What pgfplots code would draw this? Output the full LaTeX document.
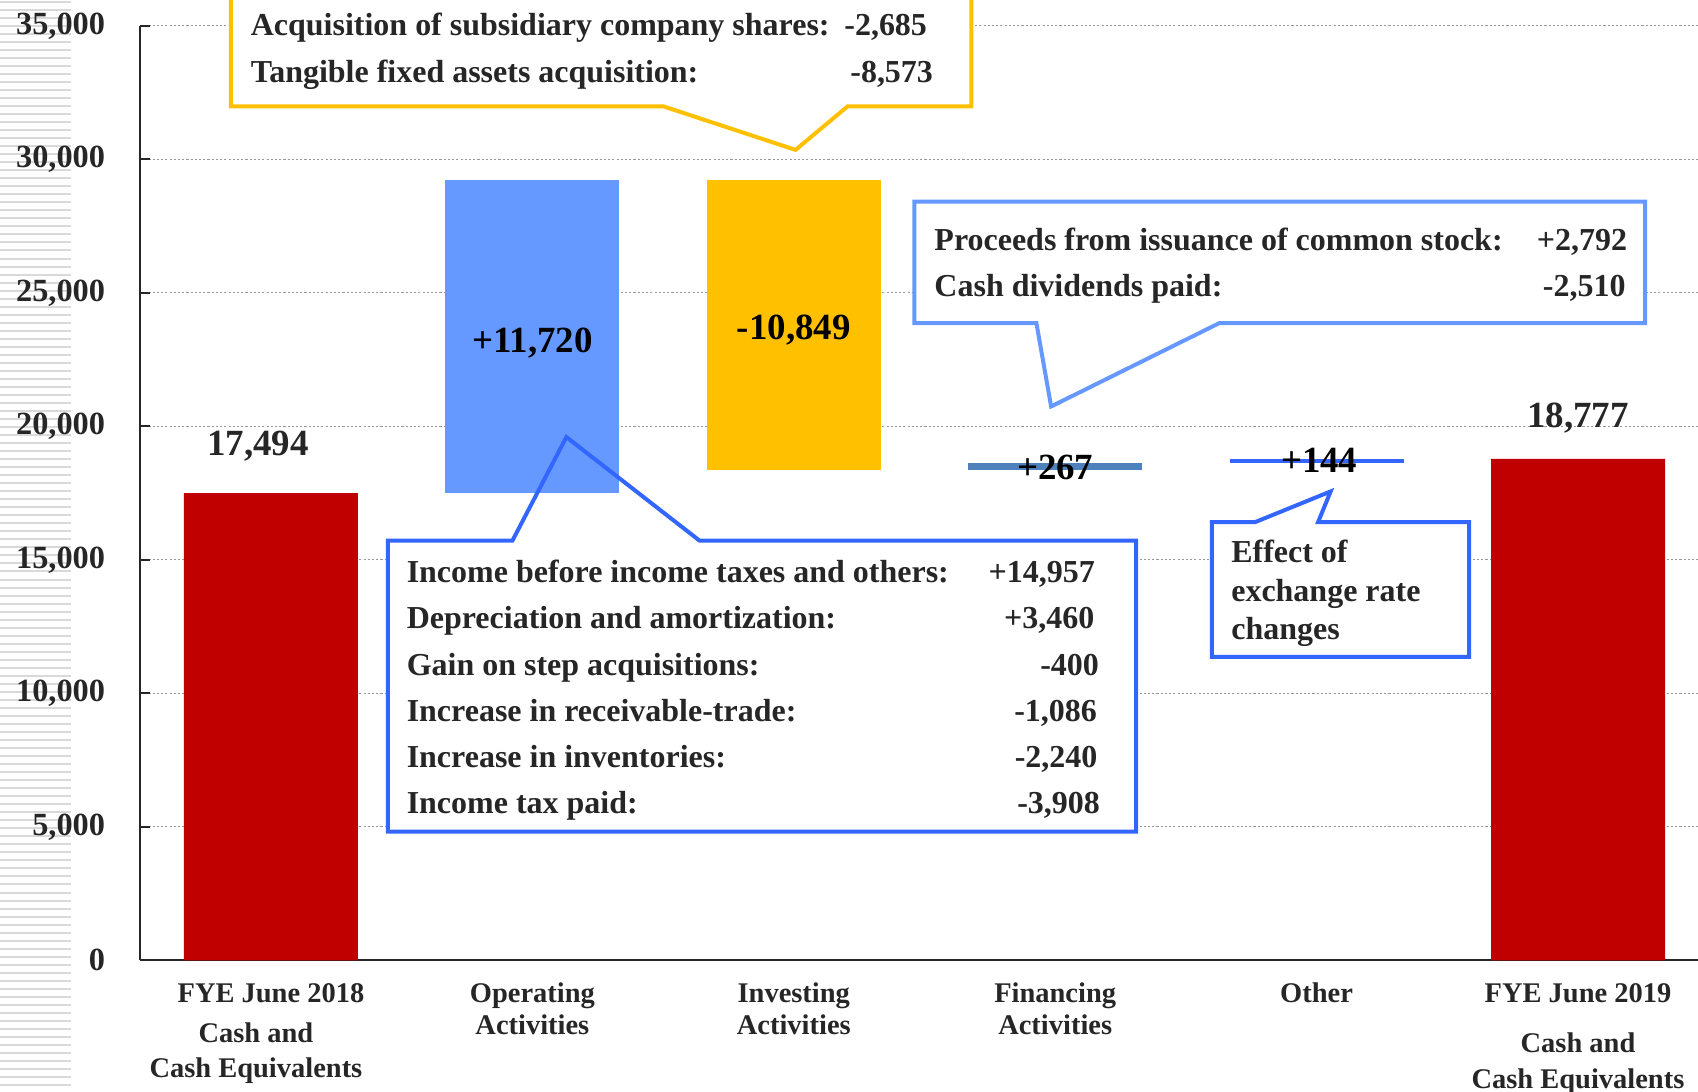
\documentclass[border=0pt]{standalone}
\usepackage{pgfplots}
\pgfplotsset{compat=1.18}
\usepackage{fontspec}
\setmainfont{Liberation Serif}

\definecolor{cRed}{HTML}{C00000}
\definecolor{cBlue}{HTML}{6699FF}
\definecolor{cGold}{HTML}{FFC000}
\definecolor{cSteel}{HTML}{4F81BD}
\definecolor{cLine}{HTML}{3366FF}
\definecolor{cText}{HTML}{262626}

\newcommand{\ctxt}{\fontsize{9.1}{11}\selectfont\bfseries}
\newcommand{\vtxt}{\fontsize{10.5}{12}\selectfont\bfseries}

\begin{document}
\begin{tikzpicture}
\useasboundingbox (0,0) rectangle (16.98,10.91);

% striped strip on the left
\begin{scope}[x=0.01cm, y=-0.01cm, yshift=10.91cm]
  \foreach \i in {0,...,135}
    \draw[gray!30, line width=0.02cm] (0,{1.7+8.03*\i}) -- (71,{1.7+8.03*\i});
\end{scope}

\begin{axis}[
  at={(1.40cm,1.307cm)}, anchor=south west,
  width=15.58cm, height=9.345cm, scale only axis,
  xmin=-0.501, xmax=5.459, ymin=0, ymax=35000,
  axis x line*=bottom, axis y line*=left,
  axis line style={-, black!85, line width=0.5pt},
  ybar stacked, bar width=1.74cm,
  ytick={0,5000,...,35000},
  scaled y ticks=false,
  ymajorgrids,
  major grid style={gray!80, line width=0.35pt, dash pattern=on 0.6pt off 0.6pt},
  tick align=inside, major tick length=0.1cm,
  ytick style={black!85, line width=0.5pt},
  xtick style={draw=none},
  yticklabel style={font=\fontsize{9.2}{10}\selectfont\bfseries, text=cText, xshift=-0.225cm,
    /pgf/number format/.cd, 1000 sep={,}, assume math mode=true},
  xtick={0,1,2,3,4,5},
  xticklabels={{FYE June 2018\\[2.4pt]Cash and\rule{0.3cm}{0pt}\\[1.1pt]Cash Equivalents\rule{0.3cm}{0pt}},
    {Operating\\Activities}, {Investing\\Activities}, {Financing\\Activities},
    {Other}, {FYE June 2019\\[5.4pt]Cash and\\[1.1pt]Cash Equivalents}},
  xticklabel style={font=\fontsize{8.1}{9}\selectfont\bfseries, text=cText, align=center, yshift=-0.105cm},
  clip=false,
]
% invisible base of the floating bars
\addplot[draw=none, fill=none] coordinates {(0,0) (1,17494) (2,18365) (3,18365) (4,18632) (5,0)};
\addplot[draw=none, fill=cRed] coordinates {(0,17494) (1,0) (2,0) (3,0) (4,0) (5,18777)};
\addplot[draw=none, fill=cBlue] coordinates {(0,0) (1,11720) (2,0) (3,0) (4,0) (5,0)};
\addplot[draw=none, fill=cGold] coordinates {(0,0) (1,0) (2,10849) (3,0) (4,0) (5,0)};
\addplot[draw=none, fill=cSteel] coordinates {(0,0) (1,0) (2,0) (3,267) (4,0) (5,0)};
\addplot[draw=none, fill=cLine] coordinates {(0,0) (1,0) (2,0) (3,0) (4,144) (5,0)};

\coordinate (v0) at (axis cs:-0.05,18890);
\coordinate (v1) at (axis cs:1,22781);
\coordinate (v2) at (axis cs:2,23268);
\coordinate (v3) at (axis cs:3,18013);
\coordinate (v4) at (axis cs:4.01,18261);
\coordinate (v5) at (axis cs:5,19950);
\end{axis}

% value labels on top of the bars
\begin{scope}[every node/.style={font=\vtxt, anchor=base, inner sep=0}]
  \node[text=cText] at (v0) {17,494};
  \node[text=black] at (v1) {+11,720};
  \node[text=black] at (v2) {-10,849};
  \node[text=black] at (v3) {+267};
  \node[text=black] at (v4) {+144};
  \node[text=cText] at (v5) {18,777};
\end{scope}

% callouts (pixel coordinates, origin top left)
\begin{scope}[x=0.01cm, y=-0.01cm, yshift=10.91cm, line width=0.04cm, line join=miter,
    every node/.style={inner sep=0, font=\ctxt, text=cText}]
  % investing
  \fill[white] (231,-10) rectangle (972,106.5);
  \draw[cGold] (231,-10) -- (231,106.5) -- (664,106.5) -- (796,150) -- (848,106.5) -- (972,106.5) -- (972,-10);
  \node[anchor=base west] at (249,36) {Acquisition of subsidiary company shares:};
  \node[anchor=base east] at (929.5,36) {-2,685};
  \node[anchor=base west] at (249,82.7) {Tangible fixed assets acquisition:};
  \node[anchor=base east] at (935.5,82.7) {-8,573};
  % financing
  \fill[white] (915,201.7) rectangle (1646,323.3);
  \draw[cBlue] (1037,323.3) -- (915,323.3) -- (915,201.7) -- (1646,201.7) -- (1646,323.3) -- (1220,323.3) -- (1051.7,406.7) -- cycle;
  \node[anchor=base west] at (933,251) {Proceeds from issuance of common stock:};
  \node[anchor=base east] at (1630,251) {+2,792};
  \node[anchor=base west] at (933,296.7) {Cash dividends paid:};
  \node[anchor=base east] at (1628.5,296.7) {-2,510};
  % operating
  \fill[white] (388,541) rectangle (1136.7,832);
  \draw[cLine] (512.7,541) -- (388,541) -- (388,832) -- (1136.7,832) -- (1136.7,541) -- (700,541) -- (566.7,437.3) -- cycle;
  \node[anchor=base west] at (405,583.3) {Income before income taxes and others:};
  \node[anchor=base east] at (1097.5,583.3) {+14,957};
  \node[anchor=base west] at (405,629) {Depreciation and amortization:};
  \node[anchor=base east] at (1097,629) {+3,460};
  \node[anchor=base west] at (405,675.7) {Gain on step acquisitions:};
  \node[anchor=base east] at (1101.5,675.7) {-400};
  \node[anchor=base west] at (405,721.7) {Increase in receivable-trade:};
  \node[anchor=base east] at (1099.5,721.7) {-1,086};
  \node[anchor=base west] at (405,767.7) {Increase in inventories:};
  \node[anchor=base east] at (1100,767.7) {-2,240};
  \node[anchor=base west] at (405,814) {Income tax paid:};
  \node[anchor=base east] at (1102.5,814) {-3,908};
  % other
  \fill[white] (1212.5,522.5) rectangle (1470,657.3);
  \draw[cLine] (1255.7,522.5) -- (1212.5,522.5) -- (1212.5,657.3) -- (1470,657.3) -- (1470,522.5) -- (1318.8,522.5) -- (1331.4,491.7) -- cycle;
  \node[anchor=base west] at (1230,563.3) {Effect of};
  \node[anchor=base west] at (1230,601.7) {exchange rate};
  \node[anchor=base west] at (1230,640) {changes};
\end{scope}
\end{tikzpicture}
\end{document}
